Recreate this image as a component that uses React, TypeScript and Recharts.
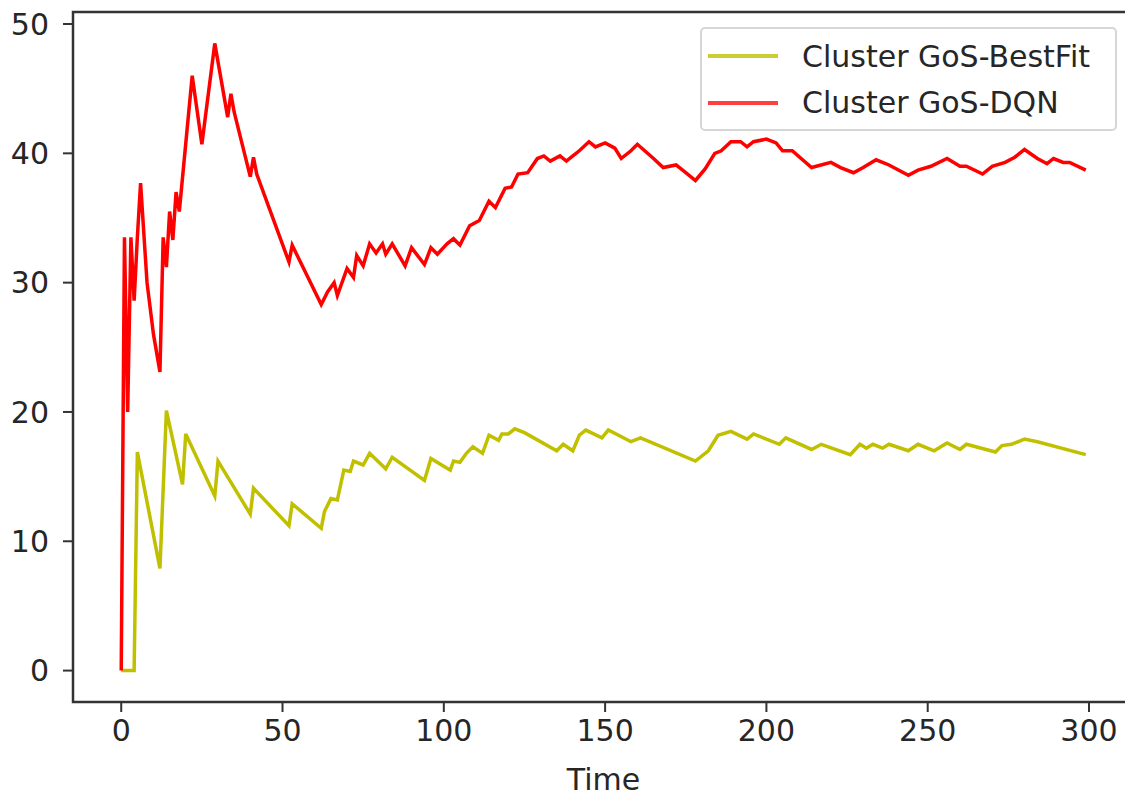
import React from 'react';
import { LineChart, Line, XAxis, YAxis, ReferenceArea } from 'recharts';

// values (vertices of each trace)
const bestFitTime = [
  0, 4, 5, 12, 14, 19, 20, 29, 30, 40, 41, 52, 53, 62, 63, 65, 67, 69, 71, 72,
  75, 77, 82, 84, 94, 96, 102, 103, 105, 107, 109, 112, 114, 117, 118, 120, 122, 125, 135, 137,
  140, 142, 144, 149, 151, 158, 161, 178, 182, 185, 189, 194, 196, 204, 206, 214, 217, 226, 229, 231,
  233, 236, 238, 244, 247, 252, 256, 260, 262, 271, 273, 276, 280, 284, 299,
];
const bestFitGoS = [
  0, 0, 16.9, 7.9, 20.1, 14.4, 18.3, 13.5, 16.2, 12.1, 14.1, 11.2, 12.9, 11.0, 12.3, 13.3, 13.2, 15.5, 15.4, 16.2,
  15.9, 16.8, 15.6, 16.5, 14.7, 16.4, 15.5, 16.2, 16.1, 16.8, 17.3, 16.8, 18.2, 17.8, 18.3, 18.3, 18.7, 18.4, 17.0, 17.5,
  17.0, 18.2, 18.6, 18.0, 18.6, 17.7, 18.0, 16.2, 17.0, 18.2, 18.5, 17.9, 18.3, 17.5, 18.0, 17.1, 17.5, 16.7, 17.5, 17.2,
  17.5, 17.2, 17.5, 17.0, 17.5, 17.0, 17.6, 17.1, 17.5, 16.9, 17.4, 17.5, 17.9, 17.7, 16.7,
];

const dqnTime = [
  0, 1, 2, 3, 4, 5, 6, 8, 10, 12, 13, 14, 15, 16, 17, 18, 22, 25, 29, 33,
  34, 35, 40, 41, 42, 52, 53, 62, 64, 66, 67, 70, 72, 73, 75, 77, 79, 81, 82, 84,
  88, 90, 94, 96, 98, 101, 103, 105, 108, 111, 114, 116, 119, 121, 123, 126, 129, 131, 133, 136,
  138, 140, 142, 145, 147, 150, 153, 155, 158, 160, 165, 168, 172, 175, 178, 181, 184, 186, 189, 192,
  194, 196, 200, 203, 205, 208, 214, 220, 223, 227, 230, 234, 238, 244, 247, 251, 256, 260, 262, 267,
  270, 274, 277, 280, 284, 287, 289, 292, 294, 299,
];
const dqnGoS = [
  0, 33.5, 20.0, 33.5, 28.6, 33.5, 37.7, 30.0, 26.0, 23.1, 33.5, 31.2, 35.5, 33.3, 37.0, 35.5, 46.0, 40.7, 48.5, 42.8,
  44.6, 43.2, 38.2, 39.7, 38.4, 31.6, 32.9, 28.3, 29.3, 30.0, 29.0, 31.1, 30.4, 32.1, 31.3, 33.0, 32.3, 33.0, 32.2, 33.0,
  31.3, 32.7, 31.4, 32.7, 32.2, 33.0, 33.4, 32.9, 34.4, 34.8, 36.3, 35.8, 37.3, 37.4, 38.4, 38.5, 39.6, 39.8, 39.4, 39.8,
  39.4, 39.8, 40.2, 40.9, 40.5, 40.8, 40.4, 39.6, 40.2, 40.7, 39.6, 38.9, 39.1, 38.5, 37.9, 38.8, 40.0, 40.2, 40.9, 40.9,
  40.5, 40.9, 41.1, 40.8, 40.2, 40.2, 38.9, 39.3, 38.9, 38.5, 38.9, 39.5, 39.1, 38.3, 38.7, 39.0, 39.6, 39.0, 39.0, 38.4,
  39.0, 39.3, 39.7, 40.3, 39.6, 39.2, 39.6, 39.3, 39.3, 38.7,
];

const seriesNames = ['Cluster GoS-BestFit', 'Cluster GoS-DQN'];
const xTicks = [0, 50, 100, 150, 200, 250, 300];
const yTicks = [0, 10, 20, 30, 40, 50];

const bestFit = bestFitTime.map((t, i) => ({ t, v: bestFitGoS[i] }));
const dqn = dqnTime.map((t, i) => ({ t, v: dqnGoS[i] }));

const X_DOMAIN: [number, number] = [-14.95, 313.95];
const Y_DOMAIN: [number, number] = [-2.43, 50.93];
const font = '"DejaVu Sans", sans-serif';
const tickStyle = { fontSize: 30, fill: '#262626', fontFamily: font };

const legendColors = ['#cccc33', '#ff4040'];

export default function App() {
  return (
    <div
      style={{
        position: 'fixed',
        left: 0,
        top: 0,
        width: 1125,
        height: 796,
        overflow: 'hidden',
        background: '#fff',
      }}
    >
      <LineChart width={1200} height={796} margin={{ top: 12, right: 66, bottom: 0, left: 0 }}>
        <XAxis
          type="number"
          dataKey="t"
          domain={X_DOMAIN}
          ticks={xTicks}
          interval={0}
          allowDataOverflow
          axisLine={false}
          tickLine={{ stroke: '#333', strokeWidth: 2 }}
          tickSize={10}
          tickMargin={8}
          tick={tickStyle}
          height={94}
          label={{ value: 'Time', position: 'insideBottom', offset: 6, style: { ...tickStyle, textAnchor: 'middle' } }}
        />
        <YAxis
          type="number"
          domain={Y_DOMAIN}
          ticks={yTicks}
          interval={0}
          allowDataOverflow
          axisLine={false}
          tickLine={{ stroke: '#333', strokeWidth: 2 }}
          tickSize={10}
          tickMargin={14}
          tick={tickStyle}
          width={73}
        />
        <Line
          data={bestFit}
          dataKey="v"
          name={seriesNames[0]}
          type="linear"
          stroke="#c0c000"
          strokeWidth={3.5}
          dot={false}
          isAnimationActive={false}
        />
        <Line
          data={dqn}
          dataKey="v"
          name={seriesNames[1]}
          type="linear"
          stroke="#ff0000"
          strokeWidth={3.5}
          dot={false}
          isAnimationActive={false}
        />
        <ReferenceArea
          x1={X_DOMAIN[0]}
          x2={X_DOMAIN[1]}
          y1={Y_DOMAIN[0]}
          y2={Y_DOMAIN[1]}
          fill="none"
          stroke="#333"
          strokeWidth={2.5}
        />
      </LineChart>
      <div
        style={{
          position: 'absolute',
          left: 700,
          top: 27,
          width: 413,
          height: 100,
          border: '2px solid #d6d6d6',
          borderRadius: 5,
          background: 'rgba(255,255,255,0.8)',
          fontFamily: font,
          fontSize: 30,
          color: '#262626',
        }}
      >
        {seriesNames.map((name, i) => (
          <div
            key={name}
            style={{ position: 'absolute', left: 6, top: 7 + i * 46.5, height: 40, display: 'flex', alignItems: 'center' }}
          >
            <span style={{ display: 'inline-block', width: 70, height: 4, background: legendColors[i] }} />
            <span style={{ marginLeft: 24, whiteSpace: 'nowrap' }}>{name}</span>
          </div>
        ))}
      </div>
    </div>
  );
}
